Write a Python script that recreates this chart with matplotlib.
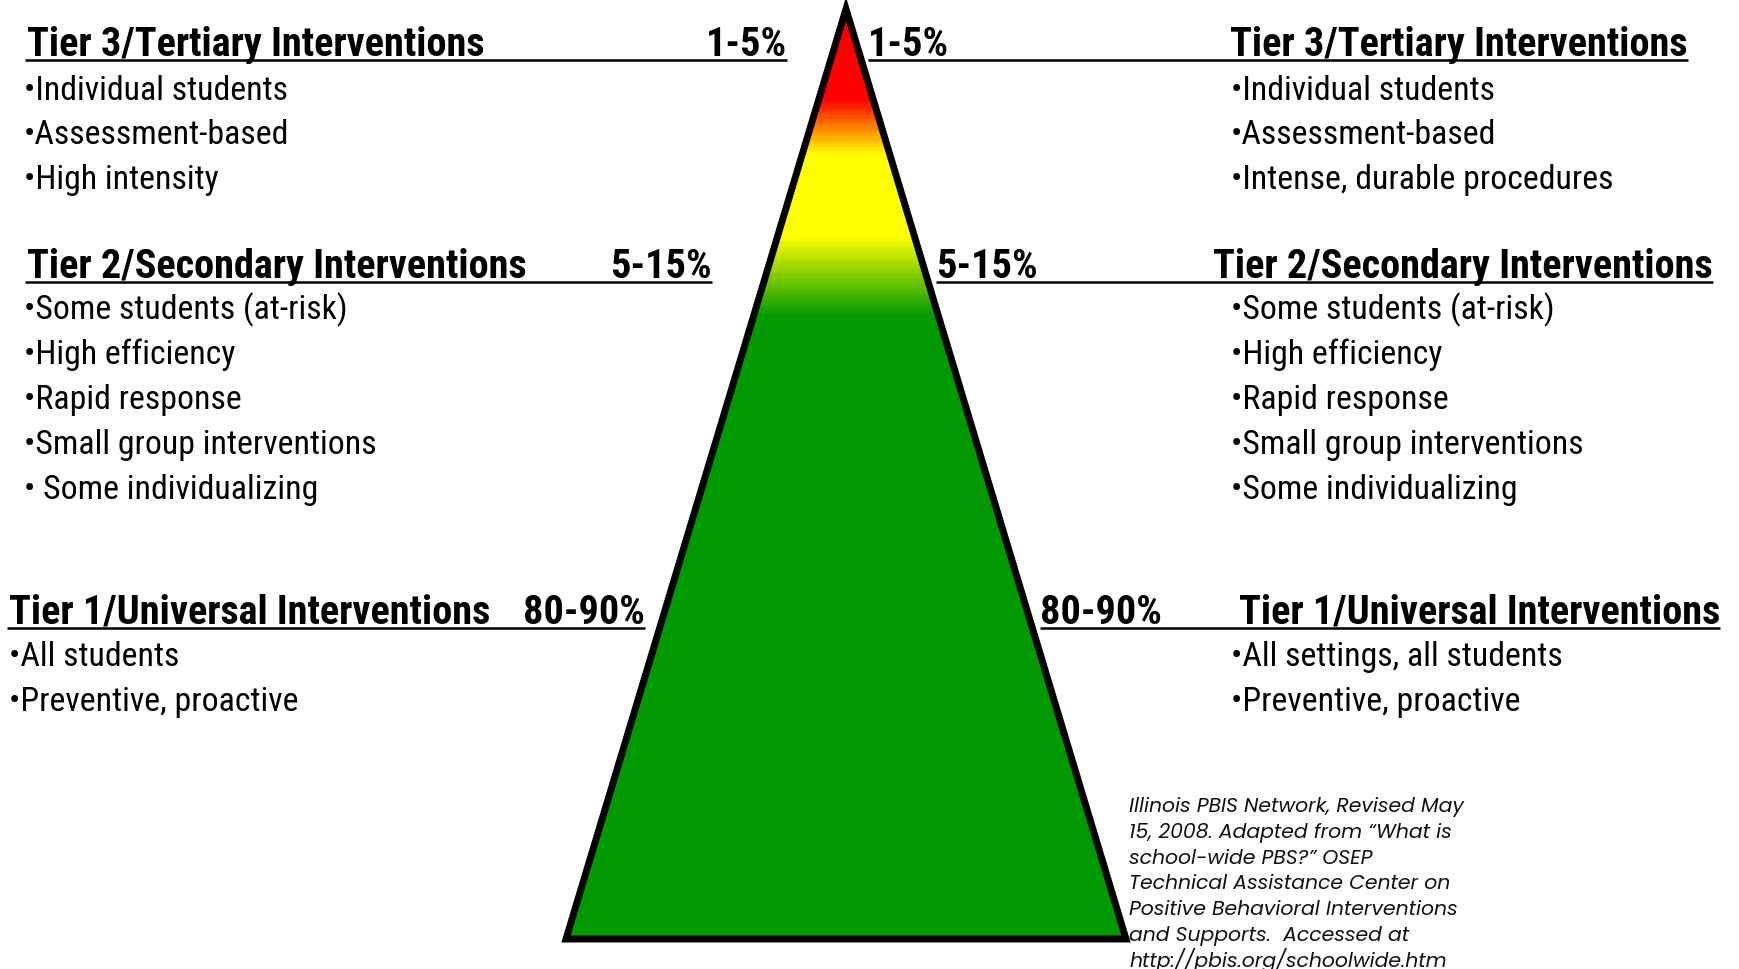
import matplotlib
matplotlib.use('Agg')
import matplotlib.pyplot as plt
import numpy as np
from matplotlib.patches import Polygon
from matplotlib.colors import LinearSegmentedColormap

# Tier text, left side
left_titles = ['Tier 3/Tertiary Interventions', 'Tier 2/Secondary Interventions', 'Tier 1/Universal Interventions']
left_bullets = [
    ['•Individual students', '•Assessment-based', '•High intensity'],
    ['•Some students (at-risk)', '•High efficiency', '•Rapid response', '•Small group interventions', '• Some individualizing'],
    ['•All students', '•Preventive, proactive'],
]

# right side
right_titles = ['Tier 3/Tertiary Interventions', 'Tier 2/Secondary Interventions', 'Tier 1/Universal Interventions']
right_bullets = [
    ['•Individual students', '•Assessment-based', '•Intense, durable procedures'],
    ['•Some students (at-risk)', '•High efficiency', '•Rapid response', '•Small group interventions', '•Some individualizing'],
    ['•All settings, all students', '•Preventive, proactive'],
]

percents = ['1-5%', '5-15%', '80-90%']

citation = [
    'Illinois PBIS Network, Revised May',
    '15, 2008. Adapted from \u201cWhat is',
    'school-wide PBS?\u201d OSEP',
    'Technical Assistance Center on',
    'Positive Behavioral Interventions',
    'and Supports.  Accessed at',
    'http://pbis.org/schoolwide.htm',
]

# gradient stops down the pyramid (fraction of height, colour)
grad_pos = [0.0, 0.095, 0.155, 0.243, 0.33, 1.0]
grad_col = ['#ff0000', '#ff0000', '#ffff00', '#ffff00', '#009900', '#009900']

W, H = 1739, 969
fig = plt.figure(figsize=(W / 100, H / 100), dpi=100)
ax = fig.add_axes([0, 0, 1, 1])
ax.set_xlim(0, W)
ax.set_ylim(H, 0)
ax.axis('off')

apex = (846, 9)
base_l = (566, 939)
base_r = (1126, 939)

cmap = LinearSegmentedColormap.from_list('pyr', list(zip(grad_pos, grad_col)))
grad = np.linspace(0, 1, 600).reshape(-1, 1)
im = ax.imshow(grad, cmap=cmap, aspect='auto',
               extent=[base_l[0], base_r[0], base_l[1], apex[1]], zorder=1)
tri = Polygon([apex, base_l, base_r], closed=True, facecolor='none',
              edgecolor='black', linewidth=5, joinstyle='miter', zorder=2)
ax.add_patch(tri)
im.set_clip_path(tri)

font = ['Roboto Condensed', 'DejaVu Sans']
hsize = 29
bsize = 24.3

# header geometry: baseline y, left text x, left line end, right line start, right line end
head_y = [56, 278, 624]
left_x = [27, 27, 9]
left_end = [787, 712, 645]
right_start = [868, 936, 1040]
right_end = [1688, 1713, 1720]
bullet_y = [[100, 144, 189], [319, 364, 409, 454, 499], [666, 711]]
left_bx = [24, 24, 9]
right_bx = 1231

for i in range(3):
    y = head_y[i]
    # left block
    ax.text(left_x[i], y, left_titles[i], family=font, fontsize=hsize, fontweight='bold', va='baseline', ha='left')
    ax.text(left_end[i], y, percents[i], family=font, fontsize=hsize, fontweight='bold', va='baseline', ha='right')
    ax.plot([left_x[i] - 2, left_end[i]], [y + 3.5, y + 3.5], color='black', lw=1.8, solid_capstyle='butt')
    for txt, by in zip(left_bullets[i], bullet_y[i]):
        ax.text(left_bx[i], by, txt, family=font, fontsize=bsize, va='baseline', ha='left')
    # right block
    ax.text(right_start[i], y, percents[i], family=font, fontsize=hsize, fontweight='bold', va='baseline', ha='left')
    ax.text(right_end[i], y, right_titles[i], family=font, fontsize=hsize, fontweight='bold', va='baseline', ha='right')
    ax.plot([right_start[i], right_end[i]], [y + 3.5, y + 3.5], color='black', lw=1.8, solid_capstyle='butt')
    for txt, by in zip(right_bullets[i], bullet_y[i]):
        ax.text(right_bx, by, txt, family=font, fontsize=bsize, va='baseline', ha='left')

for k, line in enumerate(citation):
    ax.text(1129, 812 + k * 25.8, line, family=['Poppins', 'DejaVu Sans'], style='italic',
            fontsize=14.7, va='baseline', ha='left', color='#111111')

fig.savefig('out.png', dpi=100, facecolor='white')
